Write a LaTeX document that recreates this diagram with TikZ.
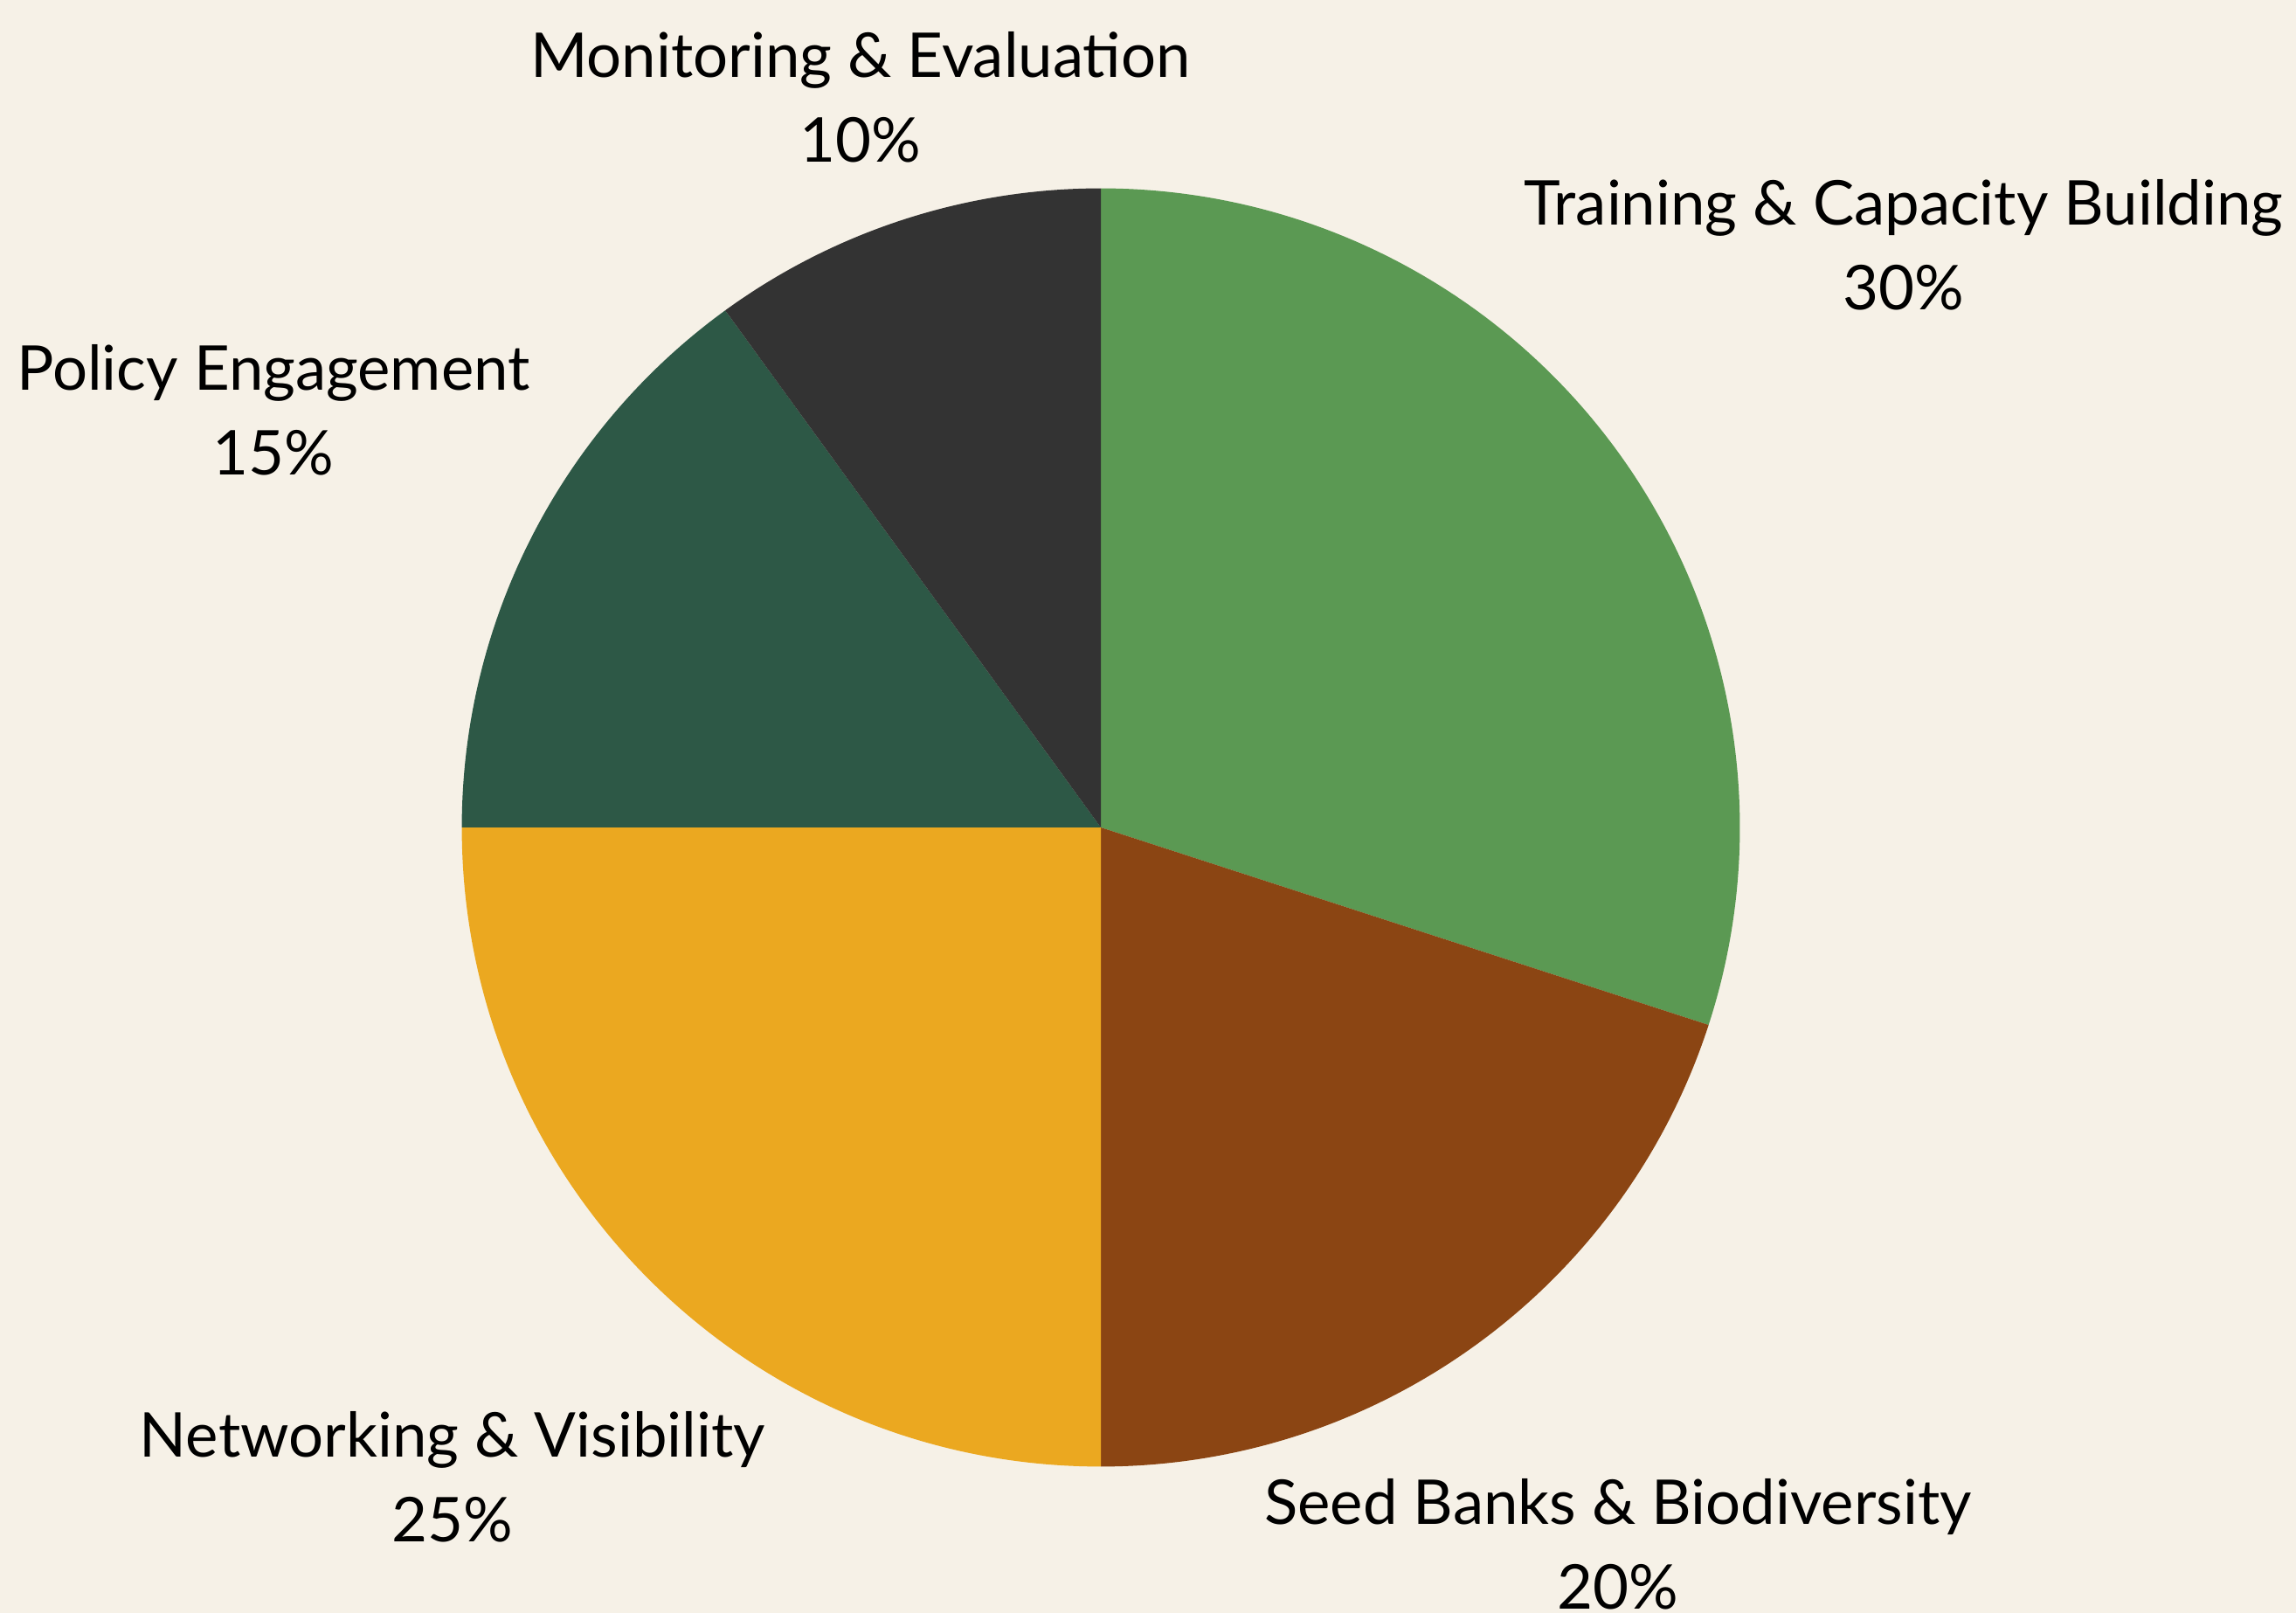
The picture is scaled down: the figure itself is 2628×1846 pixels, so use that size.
\documentclass[tikz,border=0pt]{standalone}
\usepackage{fontspec}
\setmainfont{Lato}
\definecolor{bgc}{HTML}{F6F1E7}
\definecolor{cgreen}{HTML}{5B9953}
\definecolor{cbrown}{HTML}{8B4513}
\definecolor{cyellow}{HTML}{EBA820}
\definecolor{cteal}{HTML}{2D5846}
\definecolor{cdark}{HTML}{333333}
\begin{document}
\begin{tikzpicture}[x=0.01cm,y=0.01cm,
  lbl/.style={align=center,inner sep=0pt,text=black,font=\fontsize{20.1}{27.6}\selectfont}]
\fill[bgc] (0,0) rectangle (2628,1846);
\useasboundingbox (0,0) rectangle (2628,1846);
\coordinate (c) at (1260,899);
\fill[cgreen]  (c) -- ++(90:7.31cm)  arc[start angle=90,  end angle=-18,  radius=7.31cm] -- cycle;
\fill[cbrown]  (c) -- ++(-18:7.31cm) arc[start angle=-18, end angle=-90,  radius=7.31cm] -- cycle;
\fill[cyellow] (c) -- ++(-90:7.31cm) arc[start angle=-90, end angle=-180, radius=7.31cm] -- cycle;
\fill[cteal]   (c) -- ++(180:7.31cm) arc[start angle=180, end angle=126,  radius=7.31cm] -- cycle;
\fill[cdark]   (c) -- ++(126:7.31cm) arc[start angle=126, end angle=90,   radius=7.31cm] -- cycle;
\node[lbl] (lmon) at (985,1735) {Monitoring \& Evaluation\\10\%};
\node[lbl] (ltra) at (2179,1566) {Training \& Capacity Building\\30\%};
\node[lbl] (lpol) at (313,1377) {Policy Engagement\\15\%};
\node[lbl] (lnet) at (518,156) {Networking \& Visibility\\25\%};
\node[lbl] (lsee) at (1852,79) {Seed Banks \& Biodiversity\\20\%};
\end{tikzpicture}
\end{document}
